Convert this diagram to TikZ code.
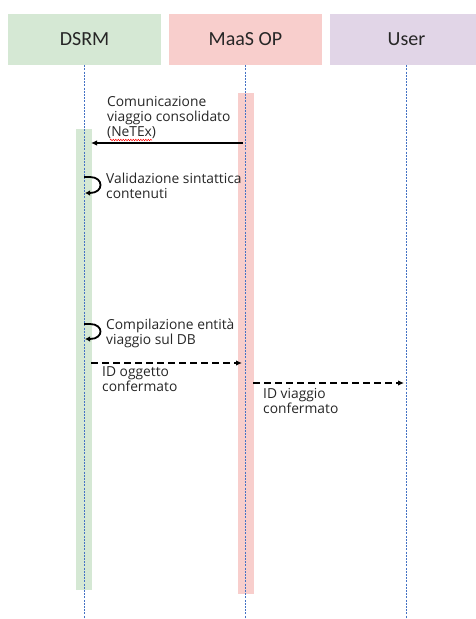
\documentclass[tikz,border=0pt]{standalone}
\usepackage{fontspec}
\setmainfont{Open Sans}
\newfontfamily\headfont{Carlito}
\usetikzlibrary{arrows.meta}
\usetikzlibrary{decorations.pathmorphing}
\definecolor{dsgreen}{HTML}{D5E8D4}
\definecolor{oppink}{HTML}{F8CECC}
\definecolor{userlilac}{HTML}{E1D5E7}
\definecolor{lifeblue}{HTML}{4472C4}

\tikzset{
  actor/.style={minimum width=153pt, minimum height=51pt, inner sep=0pt,
    font=\headfont\fontsize{20}{24}\selectfont, text=black!85},
  actbar/.style={minimum width=16pt, inner sep=0pt},
  lifeline/.style={lifeblue, line width=0.6pt, dash pattern=on 2pt off 1.2pt},
  msg/.style={-{Latex[length=6pt,width=5.5pt]}, line width=1.4pt},
  reply/.style={msg, dash pattern=on 7pt off 4pt},
  selfmsg/.style={-{Latex[length=5pt,width=5.5pt]}, line width=1.8pt},
  note/.style={anchor=base west, inner sep=0pt, align=left,
    font=\fontsize{13.8}{15}\selectfont, text=black!85},
}

\begin{document}
\begin{tikzpicture}[x=1pt, y=-1pt]
        \useasboundingbox (0,0) rectangle (475,619);
        % actors
        \node[actor, fill=dsgreen] (dsrm) at (84.5,39.5) {DSRM};
        \node[actor, fill=oppink] (maas) at (245.5,39.5) {MaaS OP};
        \node[actor, fill=userlilac] (user) at (406.5,39.5) {User};
        % activation bars
        \node[actbar, fill=dsgreen, minimum height=461pt] (dsbar) at (84,359.5) {};
        \node[actbar, fill=oppink, minimum height=501pt] (opbar) at (246,343.5) {};
        % lifelines
        \coordinate (dsend) at (84.5,619);
        \coordinate (opend) at (245.5,619);
        \coordinate (usend) at (406.5,619);
        \draw[lifeline] (dsrm.south) -- (dsend);
        \draw[lifeline] (maas.south) -- (opend);
        \draw[lifeline] (user.south) -- (usend);
        % messages
        \coordinate (m1a) at (243,143);
        \coordinate (m1b) at (91,143);
        \draw[msg] (m1a) -- (m1b);
        \node[note] (m1) at (107,136) {Comunicazione\\viaggio consolidato\\(NeTEx)};
        \draw[red, line width=0.5pt, decorate, decoration={snake, amplitude=0.7pt, segment length=2.5pt}]
          (110,140) -- (152,140);
        \coordinate (v1a) at (84,177);
        \coordinate (v1b) at (85,193);
        \draw[selfmsg] (v1a) -- (90,177) .. controls (104,177) and (104,193) .. (90,193) -- (v1b);
        \node[note] (v1) at (106,198) {Validazione sintattica\\contenuti};
        \coordinate (c1a) at (84,324);
        \coordinate (c1b) at (85,339);
        \draw[selfmsg] (c1a) -- (90,324) .. controls (104,324) and (104,339) .. (90,339) -- (c1b);
        \node[note] (c1) at (106,344) {Compilazione entità\\viaggio sul DB};
        \coordinate (r1a) at (91,363);
        \coordinate (r1b) at (242,363);
        \draw[reply] (r1a) -- (r1b);
        \node[note] (r1) at (102,391) {ID oggetto\\confermato};
        \coordinate (r2a) at (253,383);
        \coordinate (r2b) at (404,383);
        \draw[reply] (r2a) -- (r2b);
        \node[note] (r2) at (263,413) {ID viaggio\\confermato};
    \end{tikzpicture}
\end{document}
